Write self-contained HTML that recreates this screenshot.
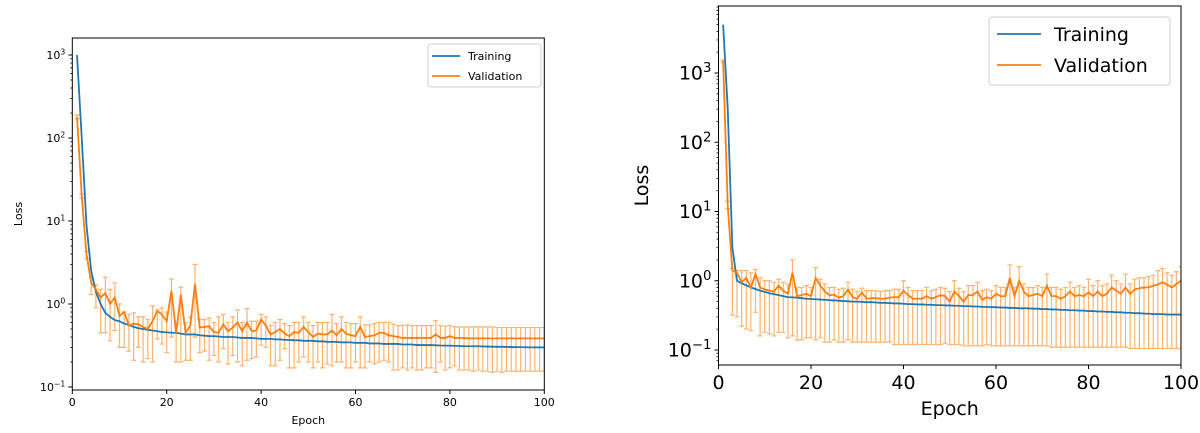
<!DOCTYPE html>
<html><head><meta charset="utf-8"><style>
html,body{margin:0;padding:0;background:#fff;}
svg{display:block;font-family:"DejaVu Sans","Liberation Sans",sans-serif;}
</style></head><body>
<svg id="fig" width="1200" height="433" viewBox="0 0 1200 433"></svg>
<script>
// ---------- Left chart data ----------
const epochs = Array.from({length:100},(_,i)=>i+1);
const leftTrain = [1000,100,9,2.5,1.4,1.0,0.78,0.7,0.64,0.62,0.58,0.56,0.53,0.51,0.5,0.49,0.48,0.47,0.46,0.455,0.45,0.45,0.44,0.43,0.43,0.43,0.42,0.415,0.41,0.41,
0.405,0.4,0.4,0.4,0.395,0.39,0.39,0.39,0.385,0.38,0.38,0.38,0.375,0.375,0.37,0.37,0.365,0.365,0.36,0.36,
0.36,0.355,0.355,0.35,0.35,0.35,0.345,0.345,0.345,0.34,0.34,0.34,0.335,0.335,0.335,0.33,0.33,0.33,0.33,0.325,
0.325,0.325,0.32,0.32,0.32,0.32,0.318,0.316,0.315,0.315,0.313,0.312,0.31,0.31,0.31,0.31,0.308,0.307,0.306,0.305,
0.305,0.304,0.303,0.302,0.302,0.301,0.3,0.3,0.3,0.3];
const leftVal = [180,20,4,1.8,1.5,1.2,1.35,1.0,1.2,0.72,0.8,0.55,0.58,0.57,0.53,0.5,0.62,0.82,0.75,0.62,1.45,0.45,1.3,0.45,0.55,1.75,0.52,0.53,0.54,0.46,
0.45,0.57,0.47,0.52,0.6,0.47,0.6,0.47,0.48,0.65,0.55,0.43,0.46,0.5,0.44,0.41,0.46,0.45,0.53,0.46,
0.4,0.44,0.43,0.43,0.48,0.42,0.5,0.44,0.42,0.41,0.53,0.4,0.41,0.42,0.45,0.45,0.42,0.41,0.4,0.39,
0.39,0.39,0.39,0.39,0.39,0.39,0.43,0.39,0.39,0.41,0.39,0.39,0.39,0.385,0.385,0.385,0.385,0.385,0.385,0.385,
0.385,0.385,0.385,0.385,0.385,0.385,0.385,0.385,0.385,0.385];
const leftUp = [190,21,4.3,2.1,1.7,1.5,2.1,1.5,1.8,1.0,0.8,0.75,0.78,0.7,0.7,0.65,0.95,0.85,0.9,0.8,2.0,0.6,1.6,0.6,0.7,3.0,0.66,0.65,0.68,0.6,
0.7,0.75,0.6,0.7,0.85,0.6,0.88,0.62,0.62,0.75,0.7,0.55,0.6,0.65,0.58,0.55,0.6,0.6,0.7,0.6,
0.55,0.6,0.6,0.6,0.75,0.58,0.7,0.6,0.58,0.58,0.7,0.56,0.56,0.58,0.6,0.6,0.6,0.57,0.55,0.55,
0.56,0.55,0.55,0.55,0.55,0.55,0.63,0.55,0.54,0.55,0.53,0.53,0.53,0.53,0.53,0.53,0.53,0.53,0.53,0.52,
0.52,0.52,0.52,0.52,0.52,0.52,0.52,0.52,0.52,0.52];
const leftLow = [170,19,3.5,1.3,0.9,0.45,0.45,0.36,0.48,0.3,0.3,0.27,0.21,0.3,0.2,0.22,0.2,0.38,0.33,0.26,0.4,0.2,0.2,0.21,0.21,0.4,0.26,0.27,0.21,0.24,
0.2,0.29,0.19,0.24,0.2,0.18,0.21,0.22,0.23,0.32,0.3,0.18,0.18,0.21,0.29,0.17,0.17,0.2,0.23,0.2,
0.17,0.2,0.17,0.19,0.18,0.2,0.2,0.17,0.17,0.2,0.17,0.17,0.2,0.19,0.2,0.21,0.2,0.16,0.16,0.17,
0.16,0.17,0.16,0.16,0.17,0.17,0.15,0.2,0.16,0.17,0.18,0.16,0.16,0.16,0.155,0.16,0.155,0.155,0.15,0.155,
0.15,0.155,0.155,0.155,0.155,0.155,0.155,0.155,0.155,0.155];
// ---------- Right chart data ----------
const rightTrain = [5000,300,3,1.0,0.92,0.86,0.8,0.76,0.72,0.69,0.66,0.64,0.62,0.6,0.58,0.575,0.57,0.56,0.55,0.545,0.54,0.535,0.53,0.525,0.52,0.515,0.51,0.505,0.5,0.5,
0.495,0.49,0.49,0.485,0.48,0.48,0.475,0.47,0.47,0.465,0.46,0.46,0.455,0.455,0.45,0.45,0.445,0.445,0.44,0.44,
0.435,0.435,0.43,0.43,0.425,0.425,0.42,0.42,0.415,0.415,0.41,0.41,0.405,0.405,0.4,0.4,0.4,0.395,0.395,0.39,
0.39,0.385,0.385,0.38,0.38,0.375,0.375,0.37,0.37,0.365,0.365,0.36,0.36,0.355,0.355,0.35,0.35,0.345,0.345,0.34,
0.34,0.335,0.335,0.33,0.33,0.33,0.325,0.325,0.325,0.325];
const rightVal = [1500,12,1.4,1.3,0.95,1.1,0.8,1.25,0.8,0.75,0.72,0.7,0.85,0.72,0.65,1.3,0.6,0.62,0.65,0.6,1.1,0.85,0.7,0.62,0.63,0.57,0.6,0.75,0.58,0.55,
0.68,0.55,0.56,0.56,0.55,0.55,0.57,0.58,0.58,0.72,0.62,0.55,0.55,0.55,0.6,0.55,0.58,0.62,0.6,0.5,
0.7,0.6,0.5,0.62,0.62,0.7,0.53,0.58,0.55,0.65,0.6,0.6,1.1,0.6,1.0,0.7,0.6,0.62,0.65,0.6,
0.85,0.6,0.6,0.55,0.6,0.7,0.6,0.62,0.6,0.68,0.6,0.7,0.6,0.65,0.8,0.72,0.65,0.8,0.65,0.75,
0.78,0.8,0.8,0.85,0.88,0.95,0.88,0.8,0.9,1.0];
const rightUp = [1550,14,1.5,1.4,1.4,1.4,1.3,1.45,1.1,1.0,1.0,0.95,1.05,0.95,0.9,2.0,0.8,0.8,0.85,0.8,1.55,1.05,0.9,0.8,0.8,0.75,0.78,0.95,0.75,0.7,
0.78,0.72,0.72,0.72,0.7,0.72,0.72,0.75,0.75,1.0,0.8,0.72,0.72,0.72,0.8,0.72,0.75,0.8,0.78,0.7,
1.0,0.78,0.7,0.85,0.85,0.95,0.72,0.75,0.72,0.85,0.8,0.8,1.7,0.8,1.6,0.9,0.8,0.8,0.85,0.8,
1.25,0.8,0.8,0.75,0.8,0.95,0.8,0.85,0.8,1.05,0.85,1.0,0.85,0.9,1.2,1.0,0.9,1.25,0.9,1.05,
1.1,1.1,1.15,1.2,1.4,1.5,1.3,1.2,1.35,1.6];
const rightLow = [1450,11,0.32,0.3,0.22,0.2,0.19,0.35,0.16,0.18,0.17,0.16,0.18,0.18,0.15,0.16,0.14,0.14,0.15,0.15,0.14,0.15,0.13,0.13,0.14,0.13,0.13,0.14,0.13,0.13,
0.13,0.13,0.13,0.13,0.13,0.13,0.13,0.12,0.12,0.12,0.12,0.12,0.12,0.12,0.12,0.12,0.12,0.12,0.125,0.12,
0.12,0.12,0.115,0.115,0.115,0.115,0.115,0.12,0.115,0.115,0.115,0.115,0.115,0.115,0.115,0.115,0.115,0.115,0.115,0.115,
0.115,0.11,0.11,0.11,0.11,0.11,0.11,0.11,0.11,0.11,0.11,0.11,0.11,0.11,0.11,0.11,0.11,0.11,0.105,0.105,
0.105,0.105,0.105,0.105,0.105,0.105,0.105,0.105,0.105,0.105];
const xTicks = [0,20,40,60,80,100];
const leftYTicks = [-1,0,1,2,3];
const rightYTicks = [-1,0,1,2,3];
const seriesNames = ["Training","Validation"];

const NS="http://www.w3.org/2000/svg";
const svg=document.getElementById('fig');
function mk(tag,attrs,parent){const e=document.createElementNS(NS,tag);for(const k in attrs)e.setAttribute(k,attrs[k]);(parent||svg).appendChild(e);return e;}

function chart(cfg){
  const g=mk('g',{});
  
  
  const X=v=>cfg.x0+(v-0)/(100)*(cfg.x1-cfg.x0);
  const Y=v=>cfg.yRef-(Math.log10(v)-cfg.decRef)*cfg.dec;
  const yTop=cfg.yTop,yBot=cfg.yBot;
  // clip
  const cid='clip'+cfg.name;
  const cp=mk('clipPath',{id:cid},g);mk('rect',{x:cfg.x0,y:yTop,width:cfg.x1-cfg.x0,height:yBot-yTop},cp);
  const plot=mk('g',{'clip-path':'url(#'+cid+')'},g);
  // error bars
  const eb=mk('g',{stroke:'#ffb370','stroke-width':1.2,fill:'none'},plot);
  
  
  for(let i=0;i<epochs.length;i++){
    const x=X(epochs[i]),yu=Y(cfg.up[i]),yl=Y(cfg.low[i]);
    const l=mk('path',{d:`M${x},${yu}V${yl}M${x-2.5},${yu}H${x+2.5}M${x-2.5},${yl}H${x+2.5}`},eb);
    
    
  }
  const pts=a=>a.map((v,i)=>X(epochs[i]).toFixed(2)+','+Y(v).toFixed(2)).join(' ');
  const tl=mk('polyline',{points:pts(cfg.train),fill:'none',stroke:'#1f77b4','stroke-width':cfg.lw},plot);
  
  
  const vl=mk('polyline',{points:pts(cfg.val),fill:'none',stroke:'#ff7f0e','stroke-width':cfg.lw},plot);
  
  
  // frame
  mk('rect',{x:cfg.x0,y:yTop,width:cfg.x1-cfg.x0,height:yBot-yTop,fill:'none',stroke:'#000','stroke-width':1},g);
  // x ticks
  xTicks.forEach(t=>{
    const x=X(t);
    mk('line',{x1:x,x2:x,y1:yBot,y2:yBot+4,stroke:'#000'},g);
    const tx=mk('text',{x:x,y:yBot+cfg.fs+5,'font-size':cfg.fs,'text-anchor':'middle'},g);
    tx.textContent=t;
    
    
  });
  // y ticks major + minor
  cfg.yTicks.forEach(p=>{
    const y=Y(Math.pow(10,p));
    mk('line',{x1:cfg.x0-4,x2:cfg.x0,y1:y,y2:y,stroke:'#000'},g);
    const tx=mk('text',{x:cfg.x0-7,y:y+cfg.fs*0.35,'font-size':cfg.fs,'text-anchor':'end'},g);
    tx.appendChild(document.createTextNode('10'));
    const sp=mk('tspan',{dy:-cfg.fs*0.4,'font-size':cfg.fs*0.7},tx);
    sp.textContent=p<0?'\u2212'+(-p):String(p);
    
    
  });
  for(let p=-2;p<=4;p++)for(let m=2;m<=9;m++){
    const y=Y(m*Math.pow(10,p));
    if(y>yTop&&y<yBot)mk('line',{x1:cfg.x0-2,x2:cfg.x0,y1:y,y2:y,stroke:'#000','stroke-width':0.8},g);
  }
  const xl=mk('text',{x:(cfg.x0+cfg.x1)/2,y:cfg.xlY,'font-size':cfg.lfs,'text-anchor':'middle'},g);
  xl.textContent='Epoch';
  
  
  const yl=mk('text',{x:cfg.ylX,y:(yTop+yBot)/2,'font-size':cfg.lfs,'text-anchor':'middle',transform:`rotate(-90 ${cfg.ylX} ${(yTop+yBot)/2})`},g);
  yl.textContent='Loss';
  
  
  // legend
  const L=cfg.leg;
  const lg=mk('g',{},g);
  
  
  mk('rect',{x:L.x,y:L.y,width:L.w,height:L.h,rx:3,fill:'#fff',stroke:'#ccc','stroke-width':1},lg);
  ['#1f77b4','#ff7f0e'].forEach((c,i)=>{
    const yy=L.y+L.r0+i*L.dy;
    mk('line',{x1:L.x+L.lx,x2:L.x+L.lx+L.ll,y1:yy,y2:yy,stroke:c,'stroke-width':cfg.lw},lg);
    const t=mk('text',{x:L.x+L.tx,y:yy+L.fs*0.36,'font-size':L.fs},lg);
    t.textContent=seriesNames[i];
    
    
  });
}
chart({name:'left-chart',x0:72.3,x1:544.3,yTop:38,yBot:390,yRef:304,decRef:0,dec:83,
  train:leftTrain,val:leftVal,up:leftUp,low:leftLow,yTicks:leftYTicks,fs:11,lfs:11,lw:1.8,
  xlY:424,ylX:22,leg:{x:428,y:44,w:113,h:43,r0:12,dy:20,lx:4,ll:28,tx:40,fs:11}});
chart({name:'right-chart',x0:718.5,x1:1181,yTop:6,yBot:365,yRef:350,decRef:-1,dec:69.25,
  train:rightTrain,val:rightVal,up:rightUp,low:rightLow,yTicks:rightYTicks,fs:19,lfs:19,lw:1.8,
  xlY:415,ylX:648,leg:{x:989,y:17,w:181,h:68,r0:17,dy:31,lx:8,ll:44,tx:65,fs:19}});
</script>
</body></html>
